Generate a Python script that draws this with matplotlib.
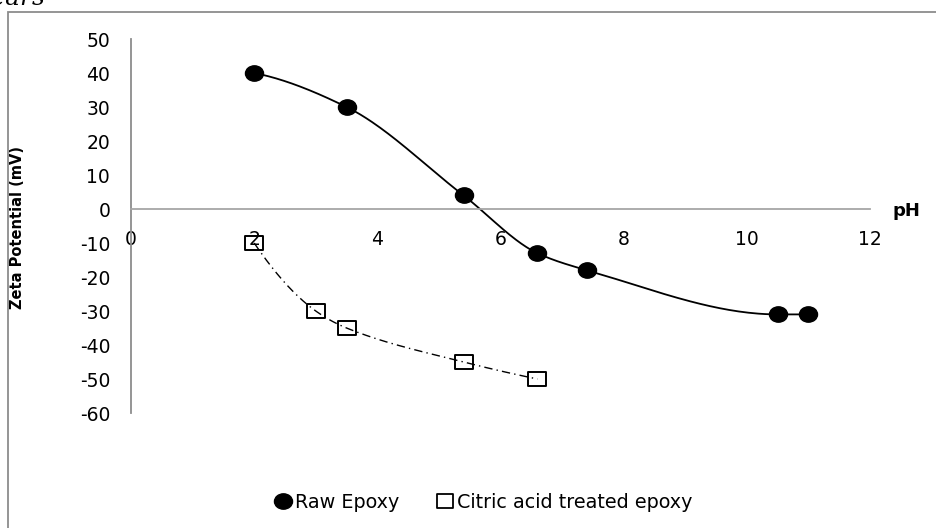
import numpy as np
import matplotlib
matplotlib.use("Agg")
import matplotlib.pyplot as plt
from matplotlib.path import Path
from matplotlib.patches import Rectangle
from matplotlib.lines import Line2D

# Zeta potential vs pH
raw_ph = [2.0, 3.5, 5.4, 6.6, 7.4, 10.5, 11.0]
raw_zeta = [40, 30, 4, -13, -18, -31, -31]
citric_ph = [2.0, 3.0, 3.5, 5.4, 6.6]
citric_zeta = [-10, -30, -35, -45, -50]
x_ticks = [0, 2, 4, 6, 8, 10, 12]
y_ticks = [50, 40, 30, 20, 10, 0, -10, -20, -30, -40, -50, -60]

plt.rcParams['font.family'] = ['DejaVu Sans']


def smooth(xs, ys, n=60):
    """Monotone piecewise-cubic (Fritsch-Carlson) curve through the points."""
    x = np.asarray(xs, float)
    y = np.asarray(ys, float)
    h = np.diff(x)
    d = np.diff(y) / h
    m = np.zeros_like(x)
    for k in range(1, len(x) - 1):
        if d[k - 1] * d[k] > 0:
            w1 = 2 * h[k] + h[k - 1]
            w2 = h[k] + 2 * h[k - 1]
            m[k] = (w1 + w2) / (w1 / d[k - 1] + w2 / d[k])

    def end(h0, h1, d0, d1):
        s = ((2 * h0 + h1) * d0 - h0 * d1) / (h0 + h1)
        if np.sign(s) != np.sign(d0):
            s = 0.0
        elif np.sign(d0) != np.sign(d1) and abs(s) > abs(3 * d0):
            s = 3 * d0
        return s
    m[0] = end(h[0], h[1], d[0], d[1])
    m[-1] = end(h[-1], h[-2], d[-1], d[-2])
    px, py = [], []
    for k in range(len(x) - 1):
        t = np.linspace(0, 1, n)
        h00 = 2 * t ** 3 - 3 * t ** 2 + 1
        h10 = t ** 3 - 2 * t ** 2 + t
        h01 = -2 * t ** 3 + 3 * t ** 2
        h11 = t ** 3 - t ** 2
        seg = h00 * y[k] + h10 * h[k] * m[k] + h01 * y[k + 1] + h11 * h[k] * m[k + 1]
        px.append(x[k] + t * h[k])
        py.append(seg)
    return np.concatenate(px), np.concatenate(py)


# slightly wide markers
circ = Path.unit_circle()
circ_marker = Path(circ.vertices * np.array([1.0, 0.85]), circ.codes)
sq_marker = Path([(-1, -0.8), (1, -0.8), (1, 0.8), (-1, 0.8), (-1, -0.8)],
                 [Path.MOVETO, Path.LINETO, Path.LINETO, Path.LINETO, Path.CLOSEPOLY])

fig = plt.figure(figsize=(9.36, 5.28), dpi=100)
W, H = 936, 528

# outer frame
fig.patches.append(Rectangle((8 / W, -0.2), 1.2, 1.2 - 12 / H,
                             transform=fig.transFigure, fill=False,
                             edgecolor='#8c8c8c', linewidth=1.3))

# caption line running off the top edge
fig.text(46 / W, 1 - 5 / H, "Years", ha='right', va='baseline',
         family='DejaVu Serif', style='italic', fontsize=18)

ax = fig.add_axes([131 / W, 1 - 413 / H, 739 / W, 374 / H])
ax.set_xlim(0, 12)
ax.set_ylim(-60, 50)

for s in ['top', 'right']:
    ax.spines[s].set_visible(False)
ax.spines['left'].set_color('#8c8c8c')
ax.spines['left'].set_linewidth(1.3)
ax.spines['bottom'].set_position(('data', 0))
ax.spines['bottom'].set_color('#a6a6a6')
ax.spines['bottom'].set_linewidth(1.3)

ax.set_xticks(x_ticks)
ax.set_xticklabels([str(v) for v in x_ticks])
ax.set_yticks(y_ticks)
ax.set_yticklabels([str(v) for v in y_ticks])
ax.tick_params(axis='x', length=0, pad=15, labelsize=13.5)
ax.tick_params(axis='y', length=0, pad=15, labelsize=13.5)

ax.set_ylabel("Zeta Potential (mV)", fontsize=10.5, fontweight='bold')
ax.yaxis.set_label_coords(-0.144, 0.495)
ax.text(1.031, 0.540, "pH", transform=ax.transAxes, ha='left', va='center',
        fontsize=13, fontweight='bold', clip_on=False)

sx, sy = smooth(raw_ph, raw_zeta)
ax.plot(sx, sy, color='black', linewidth=1.3, clip_on=False)
ax.plot(raw_ph, raw_zeta, linestyle='none', marker=circ_marker, markersize=13,
        markerfacecolor='black', markeredgecolor='black', clip_on=False, zorder=3)

cx, cy = smooth(citric_ph, citric_zeta)
ax.plot(cx, cy, color='black', linewidth=1.0, linestyle=(0, (6, 3, 1, 3)), clip_on=False)
ax.plot(citric_ph, citric_zeta, linestyle='none', marker=sq_marker, markersize=13,
        markerfacecolor='none', markeredgecolor='black', markeredgewidth=1.4,
        clip_on=False, zorder=3)

handles = [
    Line2D([], [], linestyle='none', marker=circ_marker, markersize=13,
           markerfacecolor='black', markeredgecolor='black'),
    Line2D([], [], linestyle='none', marker=sq_marker, markersize=12,
           markerfacecolor='white', markeredgecolor='black', markeredgewidth=1.3),
]
fig.legend(handles, ["Raw Epoxy", "Citric acid treated epoxy"],
           loc='center', bbox_to_anchor=(483 / W, 1 - 502 / H), ncol=2,
           frameon=False, fontsize=13.8, handletextpad=0.1, columnspacing=1.9,
           handlelength=1.0)

fig.savefig("out.png", dpi=100)
